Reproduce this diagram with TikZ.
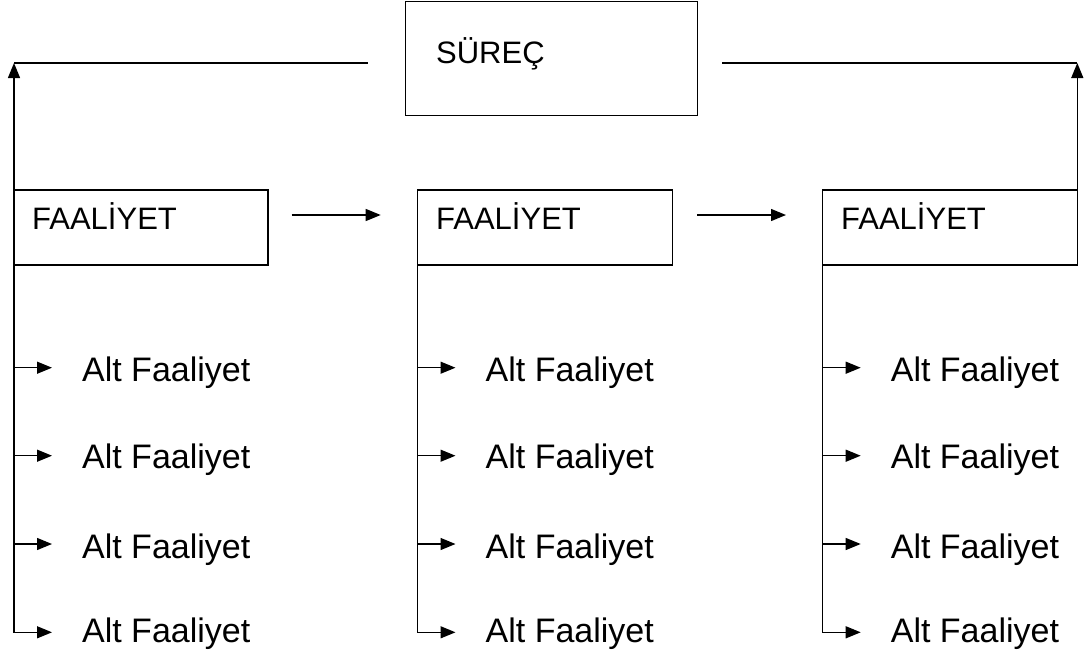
\documentclass[tikz,border=0pt]{standalone}
\usepackage{fontspec}
\setmainfont{Liberation Sans}
\usetikzlibrary{arrows.meta}
\begin{document}
\begin{tikzpicture}[x=1pt,y=-1pt,line width=1.3pt,
  box/.style={draw,anchor=north west,inner sep=0pt,outer sep=0pt},
  boxtext/.style={anchor=base west,inner sep=0pt,font=\fontsize{31}{36}\selectfont},
  subtext/.style={anchor=base west,inner sep=0pt,font=\fontsize{34}{40}\selectfont},
  tip/.style={-{Triangle[length=15pt,width=12pt]}}]
\useasboundingbox (0,0) rectangle (1088,654);

% process box
\node[box,minimum width=292pt,minimum height=114pt] (surec) at (405.7,1.5) {};
\node[boxtext] (surect) at (435.5,63) {SÜREÇ};

% activity boxes
\node[box,minimum width=254pt,minimum height=75pt] (f1) at (14,190) {};
\node[box,minimum width=255pt,minimum height=75pt] (f2) at (417.7,190) {};
\node[box,minimum width=254.6pt,minimum height=75pt] (f3) at (822.7,190) {};
\node[boxtext] (f1t) at (31.5,229.5) {FAALİYET};
\node[boxtext] (f2t) at (435.5,229.5) {FAALİYET};
\node[boxtext] (f3t) at (840.5,229.5) {FAALİYET};

% feedback lines to the process
\coordinate (lc) at (14,63);
\coordinate (le) at (368,63);
\coordinate (rc) at (1077.3,63);
\coordinate (rs) at (722,63);
\draw[tip] (f1.north west) -- (lc);
\draw (lc) -- (le);
\draw[tip] (f3.north east) -- (rc);
\draw (rs) -- (rc);

% flow between activities
\coordinate (h1s) at (291.7,215);
\coordinate (h1e) at (380.7,215);
\coordinate (h2s) at (697,215);
\coordinate (h2e) at (786,215);
\draw[tip] (h1s) -- (h1e);
\draw[tip] (h2s) -- (h2e);

% sub-activities
\foreach \c/\x in {1/14,2/417.5,3/822.7}{
  \foreach \r/\ay/\ty in {1/367.7/381,2/455.7/468,3/544/558,4/632.3/642}{
    \coordinate (p\c\r) at (\x+38,\ay);
    \node[subtext] (a\c\r) at (\x+67.5,\ty) {Alt Faaliyet};
    \draw[tip] (f\c.south west) |- (p\c\r);
  }
}
\end{tikzpicture}
\end{document}
